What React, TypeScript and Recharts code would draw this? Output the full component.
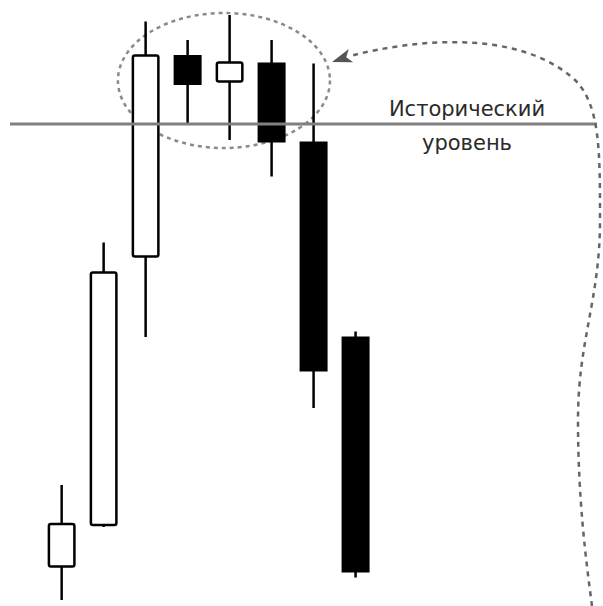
import React from 'react'
import { ComposedChart, Bar, XAxis, YAxis, ReferenceLine, ReferenceArea } from 'recharts'

// свечи: индекс, открытие, закрытие, максимум, минимум
const days = [0, 1, 2, 3, 4, 5, 6, 7]
const opens = [6.7, 15, 68.7, 109, 103.7, 107.5, 91.7, 52.7]
const closes = [15.2, 65.5, 108.9, 103, 107.5, 91.5, 45.7, 5.5]
const highs = [23, 71.5, 115.7, 112, 117, 112, 107.3, 53.7]
const lows = [0, 14.6, 52.6, 95, 92, 84.7, 38.4, 4.5]

const level = 95.2
const levelLabel = ['Исторический', 'уровень']

// зона консолидации у уровня (обводится пунктиром)
const zoneX = [1.34, 6.39]
const zoneY = [90.4, 117.4]

const data = days.map((d, i) => ({
  day: d,
  open: opens[i],
  close: closes[i],
  high: highs[i],
  low: lows[i],
  range: [lows[i], highs[i]],
}))

const W = 603
const H = 606

function Candle(props: any) {
  const { x, y, width, height, payload } = props
  const { open, close, high, low } = payload
  const k = height / (high - low || 1)
  const cx = x + width / 2
  const top = y + (high - Math.max(open, close)) * k
  const bottom = y + (high - Math.min(open, close)) * k
  const up = close >= open
  return (
    <g>
      <line x1={cx} x2={cx} y1={y} y2={y + height} stroke="#000" strokeWidth={2.5} />
      {up ? (
        <rect x={x + 1.25} y={top} width={width - 2.5} height={Math.max(bottom - top, 1)}
          fill="#fff" stroke="#000" strokeWidth={2.5} rx={2} />
      ) : (
        <rect x={x} y={top} width={width} height={Math.max(bottom - top, 1)} fill="#000" />
      )}
    </g>
  )
}

function Zone(props: any) {
  const { x, y, width, height } = props
  return (
    <ellipse cx={x + width / 2} cy={y + height / 2} rx={width / 2} ry={height / 2}
      fill="none" stroke="#8a8a8a" strokeWidth={2.5} strokeDasharray="4 4" />
  )
}

function LevelLabel({ viewBox }: any) {
  const cx = viewBox.x + viewBox.width - 130
  const style = { fontFamily: '"DejaVu Sans", sans-serif', fontSize: 21, fill: '#2a2a2a' }
  return (
    <g>
      <text x={cx} y={viewBox.y - 8} textAnchor="middle" style={style}>{levelLabel[0]}</text>
      <text x={cx} y={viewBox.y + 26} textAnchor="middle" style={style}>{levelLabel[1]}</text>
    </g>
  )
}

export default function App() {
  return (
    <div style={{ position: 'absolute', left: 0, top: 0, width: W, height: H, background: '#fff' }}>
      <ComposedChart width={W} height={H} data={data} margin={{ top: 0, right: 6, bottom: 6, left: 10 }}>
        <XAxis dataKey="day" type="number" domain={[-1.23, 12.75]} hide />
        <YAxis type="number" domain={[0, 120]} hide />
        <ReferenceLine y={level} stroke="#808080" strokeWidth={3} label={<LevelLabel />} />
        <Bar dataKey="range" barSize={28} shape={<Candle />} isAnimationActive={false} />
        <ReferenceArea x1={zoneX[0]} x2={zoneX[1]} y1={zoneY[0]} y2={zoneY[1]} shape={<Zone />} />
      </ComposedChart>
      <svg width={W} height={H} style={{ position: 'absolute', left: 0, top: 0, pointerEvents: 'none' }}>
        <path
          d="M 592 606 C 586 560, 578 500, 578 420 C 578 340, 600 300, 600 220 C 600 150, 600 105, 575 80 C 520 30, 420 38, 350 56"
          fill="none" stroke="#666" strokeWidth={2.5} strokeDasharray="5 5" />
        <path d="M332 62 L348.8 49.1 L346.2 57.3 L353.2 62.3 Z" fill="#555" />
      </svg>
    </div>
  )
}
